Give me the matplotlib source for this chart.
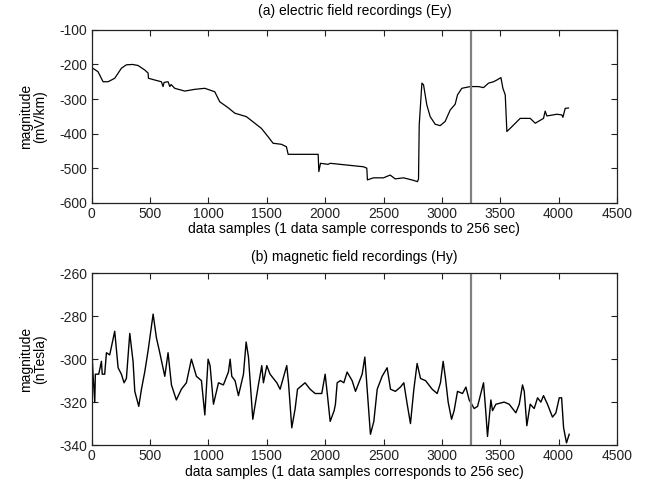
import matplotlib
matplotlib.use("Agg")
import matplotlib.pyplot as plt

plt.rcParams['font.family'] = ['Liberation Sans', 'DejaVu Sans']
plt.rcParams['axes.unicode_minus'] = False

# (a) electric field Ey: sample index, value (mV/km)
ey_x = [0, 54, 97, 140, 197, 254, 297, 350, 397, 454, 483, 486, 540, 597, 611, 620,
        654, 669, 680, 711, 797, 883, 969, 1054, 1097, 1168, 1226, 1325, 1397, 1454,
        1511, 1554, 1625, 1668, 1683, 1768, 1940, 1946, 1960, 2025, 2043, 2186, 2328,
        2357, 2362, 2414, 2500, 2557, 2600, 2671, 2743, 2791, 2800, 2806, 2829, 2843,
        2871, 2900, 2943, 2985, 3028, 3071, 3114, 3134, 3171, 3243, 3314, 3357, 3400,
        3443, 3471, 3506, 3523, 3543, 3557, 3600, 3671, 3757, 3800, 3871, 3885, 3900,
        3986, 4028, 4037, 4057, 4085]
ey_y = [-209, -221, -250, -250, -240, -211, -201, -200, -203, -216, -225, -240, -245,
        -250, -264, -252, -250, -264, -258, -269, -277, -272, -269, -279, -308, -325,
        -341, -351, -370, -385, -409, -428, -431, -438, -460, -460, -460, -510, -486,
        -489, -486, -491, -496, -500, -534, -528, -528, -520, -531, -528, -534, -539,
        -531, -375, -254, -259, -317, -351, -373, -377, -365, -332, -315, -288, -269,
        -264, -264, -267, -254, -250, -245, -238, -269, -288, -394, -380, -356, -356,
        -370, -356, -335, -349, -344, -346, -353, -327, -326]

# (b) magnetic field Hy: sample index, value (nTesla)
hy_x = [0, 11, 26, 31, 60, 83, 90, 111, 126, 154, 197, 226, 254, 277, 297, 326, 354,
        369, 403, 426, 454, 483, 526, 554, 583, 626, 654, 683, 725, 768, 811, 854, 897,
        940, 969, 997, 1014, 1043, 1086, 1128, 1171, 1186, 1200, 1228, 1257, 1300, 1323,
        1343, 1380, 1428, 1457, 1471, 1500, 1528, 1586, 1614, 1671, 1686, 1714, 1743,
        1763, 1828, 1871, 1914, 1971, 2000, 2020, 2043, 2077, 2088, 2103, 2131, 2160,
        2188, 2231, 2260, 2288, 2317, 2340, 2360, 2388, 2417, 2446, 2488, 2531, 2560,
        2602, 2645, 2674, 2703, 2731, 2760, 2788, 2817, 2860, 2917, 2960, 2988, 3011,
        3031, 3054, 3083, 3105, 3134, 3177, 3206, 3234, 3277, 3306, 3357, 3377, 3391,
        3420, 3434, 3463, 3534, 3577, 3634, 3663, 3691, 3706, 3728, 3757, 3791, 3820,
        3848, 3871, 3905, 3948, 3977, 4006, 4026, 4043, 4068, 4091]
hy_y = [-294, -307, -320, -307, -307, -301, -307, -307, -297, -298, -287, -304, -307,
        -311, -309, -288, -301, -315, -322, -314, -306, -296, -279, -290, -297, -308,
        -297, -312, -319, -314, -311, -300, -308, -310, -326, -300, -303, -321, -311,
        -312, -306, -300, -308, -310, -317, -307, -292, -299, -328, -312, -303, -311,
        -303, -307, -311, -314, -303, -311, -332, -323, -314, -311, -314, -316, -316,
        -307, -317, -329, -324, -321, -311, -310, -311, -306, -310, -315, -311, -307,
        -299, -314, -335, -329, -314, -308, -304, -314, -315, -313, -311, -321, -330,
        -314, -302, -309, -310, -314, -316, -311, -301, -309, -320, -328, -324, -315,
        -316, -313, -319, -323, -322, -311, -325, -336, -319, -324, -321, -320, -321,
        -325, -321, -312, -315, -331, -321, -323, -318, -320, -317, -321, -327, -325,
        -318, -318, -332, -339, -335]

marker_x = 3250

x_ticks = list(range(0, 4501, 500))
ey_ticks = list(range(-600, -99, 100))
hy_ticks = list(range(-340, -259, 20))

fig = plt.figure(figsize=(6.46, 4.90), dpi=100)
ax1 = fig.add_axes([0.142, 0.5863, 0.813, 0.3527])
ax2 = fig.add_axes([0.142, 0.0918, 0.813, 0.3504])

fs = 10
for ax in (ax1, ax2):
    ax.set_xlim(0, 4500)
    ax.set_xticks(x_ticks)
    ax.tick_params(direction='in', top=True, right=True, labelsize=fs,
                   length=4, width=0.8, colors='#222222', pad=3)
    for sp in ax.spines.values():
        sp.set_linewidth(0.9)
        sp.set_color('#222222')

ax1.plot(ey_x, ey_y, color='black', lw=0.9)
ax1.axvline(marker_x, color='#808080', lw=1.6)
ax1.set_ylim(-600, -100)
ax1.set_yticks(ey_ticks)
ax1.set_title('(a) electric field recordings (Ey)', fontsize=fs, pad=11)
ax1.set_xlabel('data samples (1 data sample corresponds to 256 sec)', fontsize=fs, labelpad=1)
ax1.set_ylabel('magnitude\n(mV/km)', fontsize=fs, labelpad=9, linespacing=1.0)

ax2.plot(hy_x, hy_y, color='black', lw=1.0)
ax2.axvline(marker_x, color='#808080', lw=1.6)
ax2.set_ylim(-340, -260)
ax2.set_yticks(hy_ticks)
ax2.set_title('(b) magnetic field recordings (Hy)', fontsize=fs, pad=9)
ax2.set_xlabel('data samples (1 data samples corresponds to 256 sec)', fontsize=fs, labelpad=1)
ax2.set_ylabel('magnitude\n(nTesla)', fontsize=fs, labelpad=9, linespacing=1.0)

fig.savefig('out.png', dpi=100)
